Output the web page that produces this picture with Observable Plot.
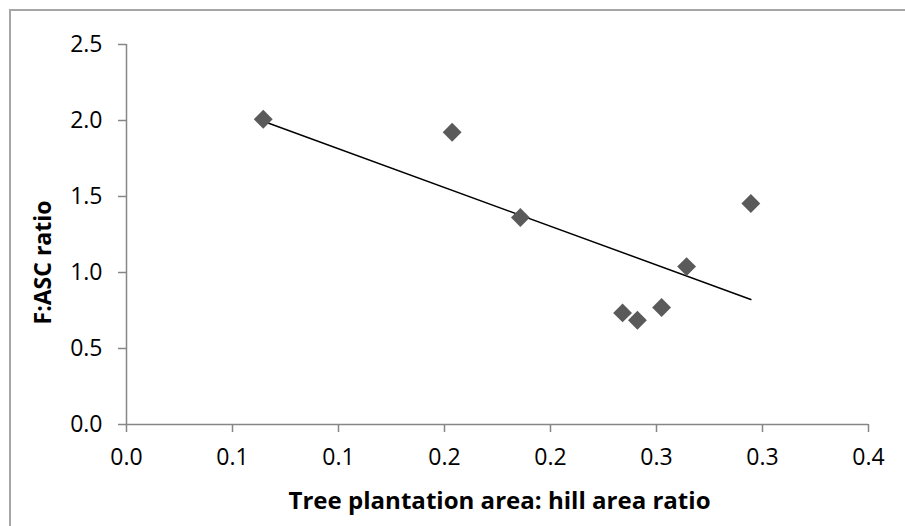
<!DOCTYPE html>
<html>
<head>
<meta charset="utf-8">
<script src="https://cdn.jsdelivr.net/npm/d3@7"></script>
<script src="https://cdn.jsdelivr.net/npm/@observablehq/plot@0.6"></script>
<style>
  html, body { margin: 0; padding: 0; background: #fff; }
  #wrap { position: relative; width: 905px; height: 526px; overflow: hidden; }
  #border { position: absolute; left: 9px; top: 9px; width: 920px; height: 540px; border: 2px solid #a6a6a6; box-sizing: border-box; pointer-events: none; }
  #chart { position: absolute; left: 0; top: 0; }
</style>
</head>
<body>
<div id="wrap"><div id="chart"></div><div id="border"></div></div>
<script>
const xValues = [0.0645, 0.1536, 0.1858, 0.2945, 0.2642, 0.2340, 0.2410, 0.2524];
const yValues = [2.008, 1.923, 1.362, 1.454, 1.039, 0.734, 0.686, 0.770];
const xTicks = [0, 0.05, 0.1, 0.15, 0.2, 0.25, 0.3, 0.35];
const xTickLabels = ["0.0", "0.1", "0.1", "0.2", "0.2", "0.3", "0.3", "0.4"];
const yTicks = [0, 0.5, 1, 1.5, 2, 2.5];
const yTickLabels = ["0.0", "0.5", "1.0", "1.5", "2.0", "2.5"];
const xTitle = "Tree plantation area: hill area ratio";
const yTitle = "F:ASC ratio";

const points = xValues.map((x, i) => ({x, y: yValues[i]}));
const axisGray = "#868686";

const chart = Plot.plot({
  width: 905,
  height: 526,
  marginLeft: 126,
  marginRight: 37,
  marginTop: 44,
  marginBottom: 102,
  style: {fontFamily: "'Open Sans', sans-serif", fontSize: "23px", color: "black", background: "transparent"},
  x: {domain: [0, 0.35]},
  y: {domain: [0, 2.5]},
  marks: [
    Plot.axisX({ticks: xTicks, tickFormat: d => xTickLabels[xTicks.indexOf(d)], tickSize: 8, tickPadding: 16, stroke: axisGray, strokeWidth: 1.5, fill: "black", fontSize: 23, label: null}),
    Plot.axisY({ticks: yTicks, tickFormat: d => yTickLabels[yTicks.indexOf(d)], tickSize: 8, tickPadding: 16, stroke: axisGray, strokeWidth: 1.5, fill: "black", fontSize: 23, label: null}),
    Plot.ruleX([0], {stroke: axisGray, strokeWidth: 1.5}),
    Plot.ruleY([0], {stroke: axisGray, strokeWidth: 1.5}),
    Plot.linearRegressionY(points, {x: "x", y: "y", stroke: "black", strokeWidth: 1.5, ci: 0}),
    Plot.dot(points, {x: "x", y: "y", symbol: "diamond2", r: 8.5, fill: "#5a5a5a", stroke: "none"}),
    Plot.text([xTitle], {text: d => d, frameAnchor: "bottom", textAnchor: "middle", dx: 2, dy: 84, fontSize: 23, fontWeight: "bold", fill: "black", className: "xtitle"}),
    Plot.text([yTitle], {text: d => d, frameAnchor: "left", textAnchor: "middle", dx: -83, dy: 28, rotate: -90, fontSize: 23, fontWeight: "bold", fill: "black", className: "ytitle"})
  ]
});
document.getElementById("chart").appendChild(chart);
chart.querySelectorAll(".xtitle text").forEach(t => { t.setAttribute("textLength", 422); t.setAttribute("lengthAdjust", "spacingAndGlyphs"); });
</script>
</body>
</html>
